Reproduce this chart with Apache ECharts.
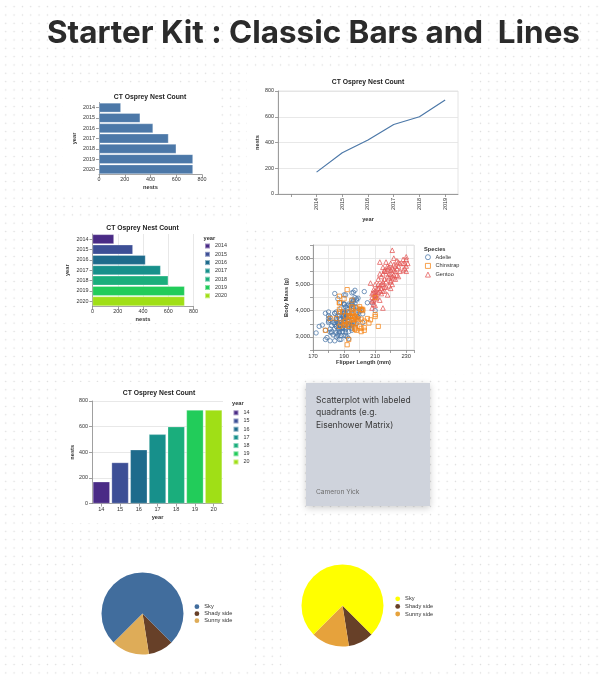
<!DOCTYPE html>
<html><head><meta charset="utf-8">
<script src="https://cdn.jsdelivr.net/npm/echarts@6/dist/echarts.min.js"></script>
<style>
html,body{margin:0;padding:0;}
body{width:602px;height:680px;background-color:#fff;
 background-image:radial-gradient(circle at center, #dadada 0.6px, rgba(255,255,255,0) 1px);
 background-size:8.33px 8.33px;background-position:1.6px 2.5px;}
#c{width:602px;height:680px;}
</style></head><body><div id="c"></div>
<script>
// ---- data ----
const years = ['2014','2015','2016','2017','2018','2019','2020'];
const shortYears = ['14','15','16','17','18','19','20'];
const nests = [170, 320, 420, 540, 600, 730, 730];
const lineYears = ['', '2014','2015','2016','2017','2018','2019'];
const lineNests = [null].concat(nests.slice(0, 6));
const yearColors = ['#4a2b86','#3d4f96','#1e6b8c','#17908b','#1aae7c','#22cc5a','#a0df16'];
const speciesNames = ['Adelie','Chinstrap','Gentoo'];
const speciesColors = ['#4c78a8','#f58518','#e45756'];
const adelie = [[181,3750],[186,3800],[195,3250],[193,3450],[190,3650],[181,3625],[195,4675],[193,3475],[190,4250],[186,3300],[180,3700],[182,3200],[191,3800],[198,4400],[185,3700],[195,3450],[197,4500],[184,3325],[194,4200],[174,3400],[180,3600],[189,3800],[185,3950],[180,3800],[187,3800],[183,3550],[187,3200],[172,3150],[180,3950],[178,3250],[178,3900],[188,3300],[184,3900],[195,3325],[196,4150],[190,3950],[180,3550],[181,3300],[184,4650],[182,3150],[195,3900],[186,3100],[196,4400],[185,3000],[190,4600],[182,3425],[179,2975],[190,3450],[191,4150],[186,3500],[188,4300],[190,3450],[200,4050],[187,2900],[191,3700],[186,3550],[193,3800],[181,2850],[194,3750],[185,3150],[195,4400],[185,3600],[192,4050],[184,2850],[192,3950],[195,3350],[188,4100],[190,3050],[198,4450],[190,3600],[190,3900],[196,3550],[197,4150],[190,3700],[195,4250],[191,3700],[184,3900],[187,3550],[195,4000],[189,3200],[196,4700],[187,3800],[193,4200],[191,3350],[194,3550],[190,3800],[189,3500],[189,3950],[190,3600],[202,3550],[205,4300],[185,3400],[186,4450],[187,3300],[208,4300],[190,3700],[196,4350],[178,2900],[192,4100],[192,3725],[203,4725],[183,3075],[190,4250],[193,2925],[184,3550],[199,3750],[190,3900],[181,3175],[197,4775],[198,3825],[191,4600],[193,3200],[197,4275],[191,3900],[196,4075],[188,2900],[199,3775],[189,3350],[189,3325],[187,3150],[198,3500],[176,3450],[202,3875],[186,3050],[199,4000],[191,3275],[195,4300],[191,3050],[210,4000],[190,3325],[197,3500],[193,3500],[199,4475],[187,3425],[190,3900],[191,3175],[200,3975],[185,3400],[193,4250],[193,3400],[187,3475],[188,3050],[190,3725],[192,3000],[185,3650],[190,4250],[184,3475],[195,3450],[193,3750],[187,3700],[201,4000]];
const chinstrap = [[192,3500],[196,3900],[193,3650],[188,3525],[197,3725],[198,3950],[178,3250],[197,3750],[195,4150],[198,3700],[193,3800],[194,3775],[185,3700],[201,4050],[190,3575],[201,4050],[197,3300],[181,3700],[190,3450],[195,4400],[191,3600],[187,3400],[193,2900],[195,3800],[197,3300],[200,4150],[200,3400],[191,3800],[205,3700],[187,4550],[201,3200],[187,4300],[203,3350],[195,4100],[199,3600],[195,3900],[210,3850],[192,4800],[192,2700],[210,4500],[187,3950],[196,3650],[196,3550],[196,3500],[201,3675],[190,4450],[212,3400],[187,4300],[198,3250],[199,3675],[201,3325],[193,3950],[203,3600],[187,4050],[197,3350],[191,3450],[203,3250],[202,4050],[194,3800],[206,3525],[189,3950],[195,3650],[207,3650],[202,4000],[193,3400],[210,3775],[198,4100],[197,3775]];
const gentoo = [[208,4100],[208,4350],[208,4500],[208,4650],[209,4400],[209,4700],[209,4800],[209,4250],[210,4200],[210,4450],[210,4550],[210,4600],[210,4750],[210,5000],[211,4500],[211,4800],[211,4600],[212,4700],[212,5000],[212,5200],[212,4850],[213,4400],[213,4950],[213,5400],[213,4750],[213,5850],[214,4650],[214,4850],[214,5300],[214,5000],[215,4100],[215,4750],[215,5000],[215,5100],[215,5400],[215,5650],[216,4750],[216,5200],[216,5500],[216,5550],[216,4900],[217,4900],[217,5100],[217,5500],[217,5850],[218,4600],[218,5300],[218,5600],[218,5700],[219,4950],[219,5250],[219,5650],[219,5400],[220,4850],[220,5150],[220,5400],[220,5550],[220,5800],[220,5100],[221,5000],[221,5300],[221,6300],[221,5600],[222,5250],[222,5350],[222,5550],[222,5750],[222,6000],[223,5200],[223,5500],[223,5700],[224,5350],[224,5600],[224,5900],[225,5300],[225,5700],[225,5850],[226,5500],[226,5800],[228,5550],[228,5800],[228,5950],[229,5600],[229,5800],[230,5500],[230,5700],[230,5950],[230,6050],[231,5800],[207,5050]];
const pieCategories = ['Shady side','Sunny side','Sky'];
const pieValues = [10, 15, 75];
const pieLegendOrder = ['Sky','Shady side','Sunny side'];
const pie1Colors = {'Sky':'#416d9d','Shady side':'#674028','Sunny side':'#deac58'};
const pie2Colors = {'Sky':'#ffff00','Shady side':'#674028','Sunny side':'#e6a23c'};

// ---- helpers ----
const F = "'Liberation Sans', Arial, sans-serif";
const AX = '#888', GRIDC = '#e2e2e2', TXT = '#333';
function lbl(size, extra){ return Object.assign({fontSize:size, color:TXT, fontFamily:F}, extra||{}); }
function nameStyle(){ return {fontSize:5.7, fontWeight:'bold', color:TXT, fontFamily:F}; }
function base(gi, extra){
  return Object.assign({gridIndex:gi, nameLocation:'middle', nameTextStyle:nameStyle(),
    axisLine:{show:true, onZero:false, lineStyle:{color:AX, width:0.8}},
    axisTick:{show:true, length:3, alignWithLabel:true, lineStyle:{color:AX, width:0.8}},
    splitLine:{show:false}}, extra);
}
const split = {show:true, lineStyle:{color:GRIDC, width:0.8}};
function panel(x,y,w,h){ return {type:'rect', z:-10, silent:true, shape:{x,y,width:w,height:h}, style:{fill:'#fff'}}; }
function titleAt(text, x, y, style, align){
  return {text, left:x, top:y, padding:0, textAlign:align||'center', textStyle:style};
}
const chartTitle = {fontSize:6.8, fontWeight:'bold', color:'#222', fontFamily:F};
const legTitle = {fontSize:5.7, fontWeight:'bold', color:TXT, fontFamily:F};

const option = {
  animation:false,
  graphic:[
    panel(63,86,153,110), panel(247,70,223,160), panel(60,217,182,106),
    panel(273,238,197,136), panel(62,382,196,141), panel(88,551,164,120), panel(288,549,164,122),
    {type:'rect', z:-5, silent:true, shape:{x:306,y:383,width:124,height:123},
     style:{fill:'#cfd3dc', shadowBlur:7, shadowColor:'rgba(0,0,0,0.2)', shadowOffsetY:2}}
  ],
  title:[
    titleAt('Starter Kit : Classic Bars and  Lines', 47, 18, {fontSize:31.4, fontWeight:'bold', color:'#2b2b2b', fontFamily:'Inter'}, 'left'),
    titleAt('CT Osprey Nest Count', 150, 93.5, chartTitle),
    titleAt('CT Osprey Nest Count', 368, 79, chartTitle),
    titleAt('CT Osprey Nest Count', 142.5, 225, chartTitle),
    titleAt('CT Osprey Nest Count', 159, 390, chartTitle),
    titleAt('year', 203.5, 235.5, legTitle, 'left'),
    titleAt('Species', 424, 246.5, legTitle, 'left'),
    titleAt('year', 232, 400, legTitle, 'left'),
    titleAt('Scatterplot with labeled\nquadrants (e.g.\nEisenhower Matrix)', 316, 394, {fontSize:8.5, lineHeight:12.5, fontWeight:'normal', color:'#3a3a3a', fontFamily:'Inter'}, 'left'),
    titleAt('Cameron Yick', 316, 488.5, {fontSize:6.6, fontWeight:'normal', color:'#6e6e6e', fontFamily:'Inter'}, 'left')
  ],
  grid:[
    {left:99, top:102.5, width:103, height:72},
    {left:278, top:91, width:180, height:103, show:true, borderColor:'#ddd', borderWidth:0.8},
    {left:92.5, top:234, width:101, height:72.5},
    {left:313, top:245, width:101, height:105, show:true, borderColor:'#ddd', borderWidth:0.8},
    {left:92, top:401, width:131, height:102.5}
  ],
  xAxis:[
    base(0,{type:'value', min:0, max:800, interval:200, axisLabel:lbl(5.4,{margin:3}), name:'nests', nameGap:10}),
    base(1,{type:'category', data:lineYears, boundaryGap:true, axisLabel:lbl(5.4,{rotate:90, margin:4, interval:0}), name:'year', nameGap:22}),
    base(2,{type:'value', min:0, max:800, interval:200, splitLine:split, axisLabel:lbl(5.4,{margin:3}), name:'nests', nameGap:10}),
    base(3,{type:'value', min:170, max:235, interval:10, splitLine:split,
      axisLabel:lbl(5.8,{margin:3, formatter:v => ((v-170)%20===0 && v<=230) ? String(v) : ''}),
      name:'Flipper Length (mm)', nameGap:9}),
    base(4,{type:'category', data:shortYears, boundaryGap:true, axisLabel:lbl(5.6,{margin:3, interval:0}), name:'year', nameGap:11})
  ],
  yAxis:[
    base(0,{type:'category', data:years, inverse:true, axisLabel:lbl(5.4,{margin:4, interval:0}), name:'year', nameGap:22}),
    base(1,{type:'value', min:0, max:800, interval:200, splitLine:split, axisLabel:lbl(5.4,{margin:4}), name:'nests', nameGap:18}),
    base(2,{type:'category', data:years, inverse:true, axisLabel:lbl(5.4,{margin:4, interval:0}), name:'year', nameGap:22}),
    base(3,{type:'value', min:2500, max:6500, interval:500, splitLine:split,
      axisLabel:lbl(5.8,{margin:3, formatter:v => (v%1000===0) ? v.toLocaleString('en-US') : ''}),
      name:'Body Mass (g)', nameGap:24}),
    base(4,{type:'value', min:0, max:800, interval:200, splitLine:split, axisLabel:lbl(5.4,{margin:4}), name:'nests', nameGap:17})
  ],
  legend:[
    {data:years, left:204, top:242.5, orient:'vertical', icon:'rect', itemWidth:5, itemHeight:5, itemGap:1.3, padding:0, selectedMode:false, textStyle:lbl(5.4)},
    {data:shortYears, left:232.5, top:409.3, orient:'vertical', icon:'rect', itemWidth:5, itemHeight:5, itemGap:1.2, padding:0, selectedMode:false, textStyle:lbl(5.4)},
    {data:speciesNames.map((n,i)=>({name:n, icon:['circle','rect','triangle'][i],
       itemStyle:{color:'rgba(0,0,0,0)', borderColor:speciesColors[i], borderWidth:0.9}})),
     left:425, top:254.2, orient:'vertical', itemWidth:5, itemHeight:5, itemGap:2.7, padding:0, selectedMode:false, textStyle:lbl(5.6)},
    {data:pieLegendOrder.map(n=>({name:n, itemStyle:{color:pie1Colors[n]}})), left:194.5, top:603.7, orient:'vertical', icon:'circle', itemWidth:4.8, itemHeight:4.8, itemGap:1, padding:0, selectedMode:false, textStyle:lbl(5.7)},
    {data:pieLegendOrder.map(n=>({name:n, itemStyle:{color:pie2Colors[n]}})), left:395.3, top:595.8, orient:'vertical', icon:'circle', itemWidth:4.8, itemHeight:4.8, itemGap:1.6, padding:0, selectedMode:false, textStyle:lbl(5.7)}
  ],
  series:[
    {type:'bar', name:'nests', xAxisIndex:0, yAxisIndex:0, data:nests, barCategoryGap:'8%', silent:true,
     itemStyle:{color:'#4c78a8', borderColor:'rgba(255,255,255,0.45)', borderWidth:0.6}},
    {type:'line', name:'nests line', xAxisIndex:1, yAxisIndex:1, data:lineNests, showSymbol:false, silent:true,
     lineStyle:{color:'#4c78a8', width:1.2}},
    ...years.map((y,i)=>({type:'bar', name:y, xAxisIndex:2, yAxisIndex:2, stack:'c3', barCategoryGap:'7%', silent:true,
      data:nests.map((v,j)=> j===i ? v : '-'), itemStyle:{color:yearColors[i], borderColor:'rgba(255,255,255,0.45)', borderWidth:0.6}})),
    {type:'scatter', name:'Adelie', xAxisIndex:3, yAxisIndex:3, data:adelie, symbol:'circle', symbolSize:4.4, silent:true,
     itemStyle:{color:'rgba(0,0,0,0)', borderColor:speciesColors[0], borderWidth:0.9, opacity:0.85}},
    {type:'scatter', name:'Gentoo', xAxisIndex:3, yAxisIndex:3, data:gentoo, symbol:'triangle', symbolSize:4.6, silent:true,
     itemStyle:{color:'rgba(0,0,0,0)', borderColor:speciesColors[2], borderWidth:0.9, opacity:0.85}},
    {type:'scatter', name:'Chinstrap', xAxisIndex:3, yAxisIndex:3, data:chinstrap, symbol:'rect', symbolSize:4.2, silent:true,
     itemStyle:{color:'rgba(0,0,0,0)', borderColor:speciesColors[1], borderWidth:0.9, opacity:0.85}},
    ...shortYears.map((y,i)=>({type:'bar', name:y, xAxisIndex:4, yAxisIndex:4, stack:'c5', barCategoryGap:'9%', silent:true,
      data:nests.map((v,j)=> j===i ? v : '-'), itemStyle:{color:yearColors[i], borderColor:'rgba(255,255,255,0.45)', borderWidth:0.6}})),
    {type:'pie', name:'pie1', center:[142.5,613.5], radius:41, startAngle:315, clockwise:true, silent:true,
     label:{show:false}, labelLine:{show:false},
     data:pieCategories.map((n,i)=>({name:n, value:pieValues[i], itemStyle:{color:pie1Colors[n]}}))},
    {type:'pie', name:'pie2', center:[342.5,605.5], radius:41, startAngle:315, clockwise:true, silent:true,
     label:{show:false}, labelLine:{show:false},
     data:pieCategories.map((n,i)=>({name:n, value:pieValues[i], itemStyle:{color:pie2Colors[n]}}))}
  ]
};
const chart = echarts.init(document.getElementById('c'));
chart.setOption(option);
</script></body></html>
